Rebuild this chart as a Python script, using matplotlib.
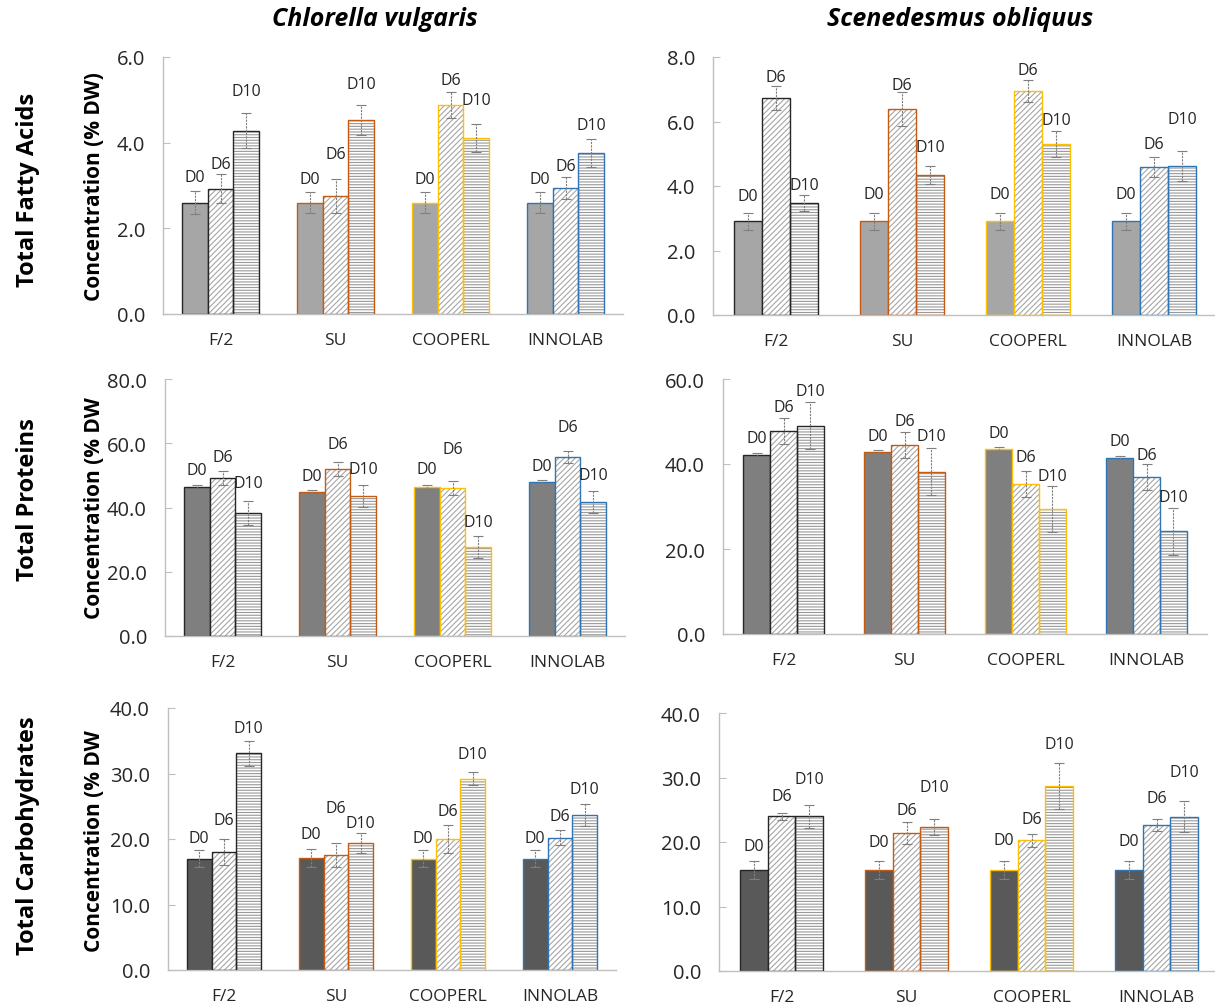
import matplotlib
matplotlib.use("Agg")
import matplotlib.pyplot as plt
import numpy as np

plt.rcParams['font.family'] = ['Open Sans', 'DejaVu Sans']
plt.rcParams['hatch.linewidth'] = 0.8

# ------------------ DATOS ------------------
medios = ['F/2', 'SU', 'COOPERL', 'INNOLAB']
dias = ['D0', 'D6', 'D10']

# Chlorella vulgaris - acidos grasos totales
cv_ag_d0 = [2.60, 2.60, 2.60, 2.60]
cv_ag_d6 = [2.92, 2.76, 4.88, 2.94]
cv_ag_d10 = [4.28, 4.53, 4.11, 3.76]
cv_ag_err_d0 = [0.27, 0.25, 0.25, 0.25]
cv_ag_err_d6 = [0.34, 0.40, 0.30, 0.25]
cv_ag_err_d10 = [0.41, 0.36, 0.32, 0.32]

# Scenedesmus obliquus - acidos grasos totales
so_ag_d0 = [2.91, 2.91, 2.91, 2.91]
so_ag_d6 = [6.73, 6.39, 6.95, 4.59]
so_ag_d10 = [3.47, 4.34, 5.30, 4.62]
so_ag_err_d0 = [0.26, 0.26, 0.26, 0.26]
so_ag_err_d6 = [0.36, 0.52, 0.33, 0.30]
so_ag_err_d10 = [0.24, 0.28, 0.40, 0.48]

# Chlorella vulgaris - proteinas totales
cv_prot_d0 = [46.4, 44.8, 46.4, 47.9]
cv_prot_d6 = [49.2, 52.0, 46.1, 55.7]
cv_prot_d10 = [38.3, 43.6, 27.7, 41.7]
cv_prot_err_d0 = [0.7, 0.7, 0.7, 0.6]
cv_prot_err_d6 = [2.3, 2.2, 2.2, 1.9]
cv_prot_err_d10 = [3.6, 3.4, 3.5, 3.4]

# Scenedesmus obliquus - proteinas totales
so_prot_d0 = [42.1, 42.8, 43.5, 41.4]
so_prot_d6 = [47.8, 44.5, 35.3, 36.9]
so_prot_d10 = [49.0, 38.2, 29.4, 24.2]
so_prot_err_d0 = [0.4, 0.4, 0.4, 0.4]
so_prot_err_d6 = [3.0, 3.0, 3.0, 3.0]
so_prot_err_d10 = [5.5, 5.5, 5.4, 5.5]

# Chlorella vulgaris - carbohidratos totales
cv_carb_d0 = [17.0, 17.1, 17.0, 17.0]
cv_carb_d6 = [18.0, 17.6, 20.0, 20.2]
cv_carb_d10 = [33.1, 19.4, 29.2, 23.7]
cv_carb_err_d0 = [1.3, 1.3, 1.3, 1.3]
cv_carb_err_d6 = [2.0, 1.8, 2.1, 1.1]
cv_carb_err_d10 = [1.9, 1.5, 1.0, 1.7]

# Scenedesmus obliquus - carbohidratos totales
so_carb_d0 = [15.6, 15.7, 15.6, 15.6]
so_carb_d6 = [24.0, 21.4, 20.3, 22.6]
so_carb_d10 = [24.0, 22.3, 28.7, 23.9]
so_carb_err_d0 = [1.4, 1.4, 1.4, 1.4]
so_carb_err_d6 = [0.55, 1.7, 1.0, 0.9]
so_carb_err_d10 = [1.8, 1.2, 3.6, 2.4]

# ------------------ ESTILO ------------------
bordes_medio = ['#262626', '#C55A11', '#FFC000', '#2E75B6']
relleno_d0 = ['#A6A6A6', '#7F7F7F', '#595959']   # uno por fila
tramas = [None, '//////', '------']
color_trama = ['#A6A6A6', '#A6A6A6', '#999999']

# separacion (px) entre la barra de error y la etiqueta, por medio y dia
sep_etiquetas = {
    'cv_ag':   [[14, 10, 22], [13, 25, 21], [13, 12, 24], [13, 11, 14]],
    'so_ag':   [[17, 9, 10], [19, 7, 19], [19, 10, 11], [19, 13, 32]],
    'cv_prot': [[15, 14, 18], [14, 18, 16], [16, 32, 14], [14, 24, 16]],
    'so_prot': [[15, 11, 11], [14, 11, 12], [14, 14, 10], [15, 9, 11]],
    'cv_carb': [[12, 19, 13], [15, 35, 10], [12, 14, 18], [12, 14, 15]],
    'so_carb': [[15, 17, 26], [19, 12, 32], [21, 15, 19], [20, 21, 29]],
}

W, H = 1215, 1004
fig = plt.figure(figsize=(W / 100, H / 100), dpi=100)


def caja(izq, arriba, ancho, alto):
    return [izq / W, 1 - (arriba + alto) / H, ancho / W, alto / H]


paneles = [
    # clave, fila, valores, errores, ymax, paso, caja en px
    ('cv_ag', 0, [cv_ag_d0, cv_ag_d6, cv_ag_d10],
     [cv_ag_err_d0, cv_ag_err_d6, cv_ag_err_d10], 6, 2, (163, 58, 460, 257)),
    ('so_ag', 0, [so_ag_d0, so_ag_d6, so_ag_d10],
     [so_ag_err_d0, so_ag_err_d6, so_ag_err_d10], 8, 2, (713, 58, 504, 258)),
    ('cv_prot', 1, [cv_prot_d0, cv_prot_d6, cv_prot_d10],
     [cv_prot_err_d0, cv_prot_err_d6, cv_prot_err_d10], 80, 20, (165, 380, 460, 257)),
    ('so_prot', 1, [so_prot_d0, so_prot_d6, so_prot_d10],
     [so_prot_err_d0, so_prot_err_d6, so_prot_err_d10], 60, 20, (723, 380, 484, 255)),
    ('cv_carb', 2, [cv_carb_d0, cv_carb_d6, cv_carb_d10],
     [cv_carb_err_d0, cv_carb_err_d6, cv_carb_err_d10], 40, 10, (168, 709, 448, 262)),
    ('so_carb', 2, [so_carb_d0, so_carb_d6, so_carb_d10],
     [so_carb_err_d0, so_carb_err_d6, so_carb_err_d10], 40, 10, (719, 714, 500, 258)),
]

ancho_barra = 0.222
x = np.arange(len(medios)) + 0.5

for clave, fila, valores, errores, ymax, paso, rect in paneles:
    ax = fig.add_axes(caja(*rect))
    for j in range(3):
        pos = x + (j - 1) * ancho_barra
        if j == 0:
            ax.bar(pos, valores[j], ancho_barra, color=relleno_d0[fila],
                   edgecolor=bordes_medio, linewidth=1.0, zorder=2)
        else:
            # primero la trama en gris, luego el contorno del color del medio
            ax.bar(pos, valores[j], ancho_barra, color='white',
                   edgecolor=color_trama[j], hatch=tramas[j], linewidth=0, zorder=2)
            ax.bar(pos, valores[j], ancho_barra, color='none',
                   edgecolor=bordes_medio, linewidth=1.0, zorder=3)
        eb = ax.errorbar(pos, valores[j], yerr=errores[j], fmt='none',
                         ecolor='#7F7F7F', elinewidth=0.8, capsize=3.5,
                         capthick=0.8, zorder=4)
        eb[2][0].set_linestyle((0, (2, 1)))
        for i in range(len(medios)):
            ax.annotate(dias[j], (pos[i], valores[j][i] + errores[j][i]),
                        xytext=(0, sep_etiquetas[clave][i][j] * 0.72),
                        textcoords='offset points', ha='center', va='center',
                        fontsize=11.5, color='#262626', zorder=5)

    ax.set_xlim(0, len(medios))
    ax.set_ylim(0, ymax)
    ax.set_yticks(np.arange(0, ymax + paso / 2, paso))
    ax.yaxis.set_major_formatter(matplotlib.ticker.FormatStrFormatter('%.1f'))
    ax.set_xticks(x)
    ax.set_xticklabels(medios)
    ax.tick_params(axis='x', length=0, pad=13, labelsize=12.5, labelcolor='#262626')
    ax.tick_params(axis='y', direction='in', length=5, color='#BFBFBF',
                   pad=13, labelsize=14.5, labelcolor='#262626')
    for lado in ['top', 'right']:
        ax.spines[lado].set_visible(False)
    for lado in ['left', 'bottom']:
        ax.spines[lado].set_color('#BFBFBF')
        ax.spines[lado].set_linewidth(1.0)
    ax.set_facecolor('none')

# titulos de columna
fig.text(375 / W, 1 - 20 / H, 'Chlorella vulgaris', ha='center', va='center',
         fontsize=18, fontweight='bold', fontstyle='italic')
fig.text(960 / W, 1 - 20 / H, 'Scenedesmus obliquus', ha='center', va='center',
         fontsize=18, fontweight='bold', fontstyle='italic')

# titulos de fila y ejes y
filas = [('Total Fatty Acids', 190, 'Concentration (% DW)', 187),
         ('Total Proteins', 500, 'Concentration (% DW', 508),
         ('Total Carbohydrates', 836, 'Concentration (% DW', 841)]
for titulo, yt, etiqueta, ye in filas:
    fig.text(28 / W, 1 - yt / H, titulo, rotation=90, ha='center', va='center',
             fontsize=17, fontweight='bold')
    fig.text(94 / W, 1 - ye / H, etiqueta, rotation=90, ha='center', va='center',
             fontsize=15, fontweight='bold')

fig.savefig('out.png', dpi=100)
